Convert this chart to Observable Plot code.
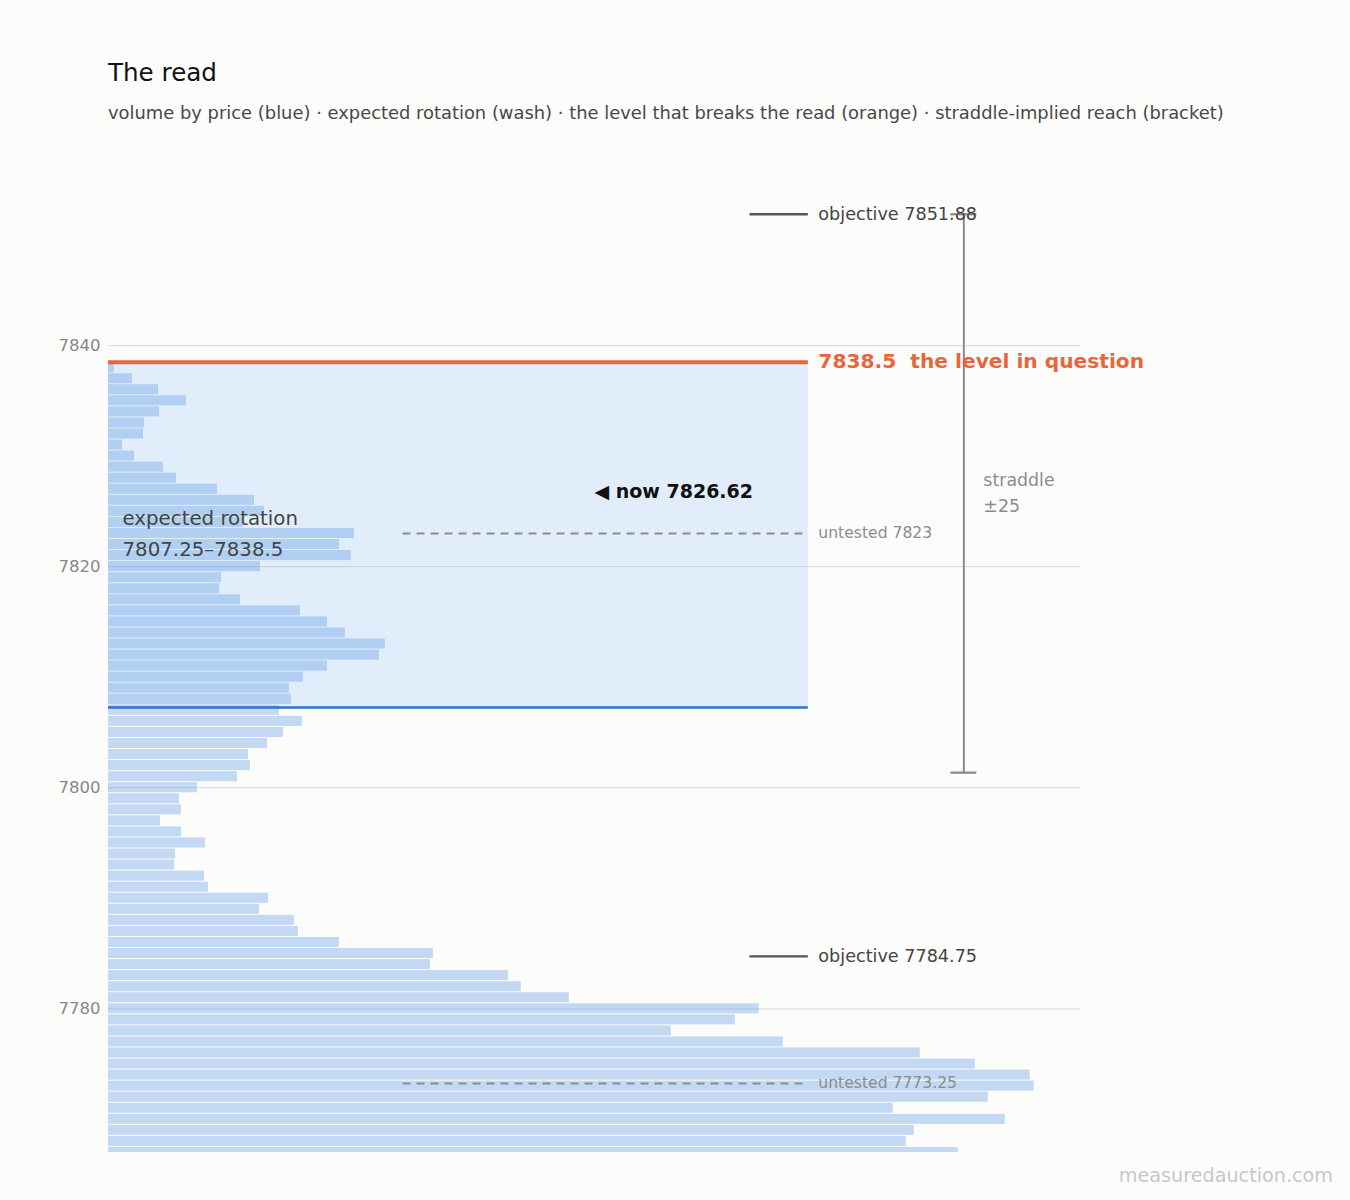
<!DOCTYPE html>
<html><head><meta charset="utf-8">
<script src="https://cdn.jsdelivr.net/npm/d3@7"></script>
<script src="https://cdn.jsdelivr.net/npm/@observablehq/plot@0.6"></script>
<style>
html,body{margin:0;padding:0;background:#fcfcfb;}
body{width:1350px;height:1200px;position:relative;overflow:hidden;font-family:"DejaVu Sans",sans-serif;}
#title{position:absolute;left:108px;top:60.7px;font-size:24.6px;line-height:24.6px;color:#111;white-space:nowrap;}
#subtitle{position:absolute;left:108px;top:104.4px;font-size:17.9px;line-height:17.9px;color:#484848;white-space:nowrap;}
#chart{position:absolute;left:0;top:140px;}
#credit{position:absolute;right:17px;top:1165.5px;font-size:19.2px;line-height:19.2px;color:#c8c8c8;white-space:nowrap;}
</style>
</head><body>
<div id="title">The read</div>
<div id="subtitle">volume by price (blue) · expected rotation (wash) · the level that breaks the read (orange) · straddle-implied reach (bracket)</div>
<div id="chart"></div>
<div id="credit">measuredauction.com</div>
<script>
// price levels (1-point bins) and traded volume at each
const prices = [7838,7837,7836,7835,7834,7833,7832,7831,7830,7829,7828,7827,7826,7825,7824,7823,7822,7821,7820,7819,7818,7817,7816,7815,7814,7813,7812,7811,7810,7809,7808,7807,7806,7805,7804,7803,7802,7801,7800,7799,7798,7797,7796,7795,7794,7793,7792,7791,7790,7789,7788,7787,7786,7785,7784,7783,7782,7781,7780,7779,7778,7777,7776,7775,7774,7773,7772,7771,7770,7769,7768,7767];
const volumes = [6,24,50,78,51,36,35,14,26,55,68,109,146,156,135,246,231,243,152,113,111,132,192,219,237,277,271,219,195,181,183,171,194,175,159,140,142,129,89,71,73,52,73,97,67,66,96,100,160,151,186,190,231,325,322,400,413,461,651,627,563,675,812,867,922,926,880,785,897,806,798,850];

// key levels
const nowPrice = [7826.62];
const rotation = [7807.25, 7838.5];           // expected rotation low / high
const breakLevel = [7838.5];                  // the level in question
const objectives = [7851.88, 7784.75];
const untested = [7823, 7773.25];
const straddle = [7801.36, 7851.88];          // now ± 25.26
const straddleLabel = ["straddle\n±25"];
const yTicks = [7780, 7800, 7820, 7840];
const yDomain = [7767, 7855];

const profile = prices.map((p, i) => ({p, v: volumes[i]}));
const xMax = d3.max(volumes) * 1.05;
const xEnd = xMax * 0.72;      // right end of the level lines
const xObj = xMax * 0.66;      // start of objective stubs
const xDash = xMax * 0.303;    // start of untested dashes
const xNow = xMax * 0.5;
const xBracket = xMax * 0.88;
const mid = (rotation[0] + rotation[1]) / 2;

const chart = Plot.plot({
  width: 1350,
  height: 1040,
  marginLeft: 108,
  marginRight: 270,
  marginTop: 39.25,
  marginBottom: 28,
  style: {fontFamily: "DejaVu Sans, sans-serif", fontSize: "16.5px", color: "#888", background: "transparent", overflow: "visible"},
  x: {domain: [0, xMax], axis: null},
  y: {domain: yDomain, ticks: yTicks, tickSize: 0, tickPadding: 8, label: null, tickFormat: d => String(d)},
  marks: [
    Plot.ruleY(yTicks, {stroke: "#e0e0e0", strokeWidth: 1.2}),
    Plot.rect([rotation], {x1: () => 0, x2: () => xEnd, y1: d => d[0], y2: d => d[1], fill: "#2d89ff", fillOpacity: 0.13}),
    Plot.rect(profile, {x1: () => 0, x2: "v", y1: d => d.p - 0.5, y2: d => d.p + 0.5, insetTop: 0.5, insetBottom: 0.5, fill: "#4a90e2", fillOpacity: 0.32, clip: true}),
    Plot.ruleY([rotation[0]], {x1: 0, x2: xEnd, stroke: "#2f72cc", strokeWidth: 2.5}),
    Plot.ruleY(breakLevel, {x1: 0, x2: xEnd, stroke: "#e8663c", strokeWidth: 4}),
    Plot.ruleY(untested, {x1: xDash, x2: xEnd, stroke: "#8c8c8c", strokeWidth: 2, strokeDasharray: "8,6"}),
    Plot.ruleY(objectives, {x1: xObj, x2: xEnd, stroke: "#555", strokeWidth: 2.3}),
    Plot.ruleX([xBracket], {y1: straddle[0], y2: straddle[1], stroke: "#8c8c88", strokeWidth: 2}),
    Plot.ruleY(straddle, {x1: xBracket, x2: xBracket, insetLeft: -13, insetRight: -13, stroke: "#8c8c88", strokeWidth: 2.3}),
    Plot.text(objectives, {x: xEnd, y: d => d, dx: 10, text: d => `objective ${d}`, textAnchor: "start", fill: "#444", fontSize: 17.6}),
    Plot.text(untested, {x: xEnd, y: d => d, dx: 10, text: d => `untested ${d}`, textAnchor: "start", fill: "#8c8c8c", fontSize: 15.6}),
    Plot.text(breakLevel, {x: xEnd, y: d => d, dx: 10, dy: -1, text: d => `${d}\u00a0 the level in question`, textAnchor: "start", fill: "#e8663c", fontSize: 20.2, fontWeight: "bold"}),
    Plot.text(nowPrice, {x: xNow, y: d => d, dy: -1.5, text: d => `◀ now ${d}`, textAnchor: "start", fill: "#111", fontSize: 19, fontWeight: "bold"}),
    Plot.text(straddleLabel, {x: xBracket, y: nowPrice[0], dx: 19.5, dy: -3, text: d => d, textAnchor: "start", fill: "#8c8c8c", fontSize: 17.4, lineHeight: 1.5}),
    Plot.text([rotation], {x: 0, y: mid, dx: 14, dy: -4, text: d => `expected rotation\n${d[0]}–${d[1]}`, textAnchor: "start", fill: "#444", fontSize: 19.8, lineHeight: 1.57})
  ]
});
document.getElementById("chart").appendChild(chart);
</script>
</body></html>
